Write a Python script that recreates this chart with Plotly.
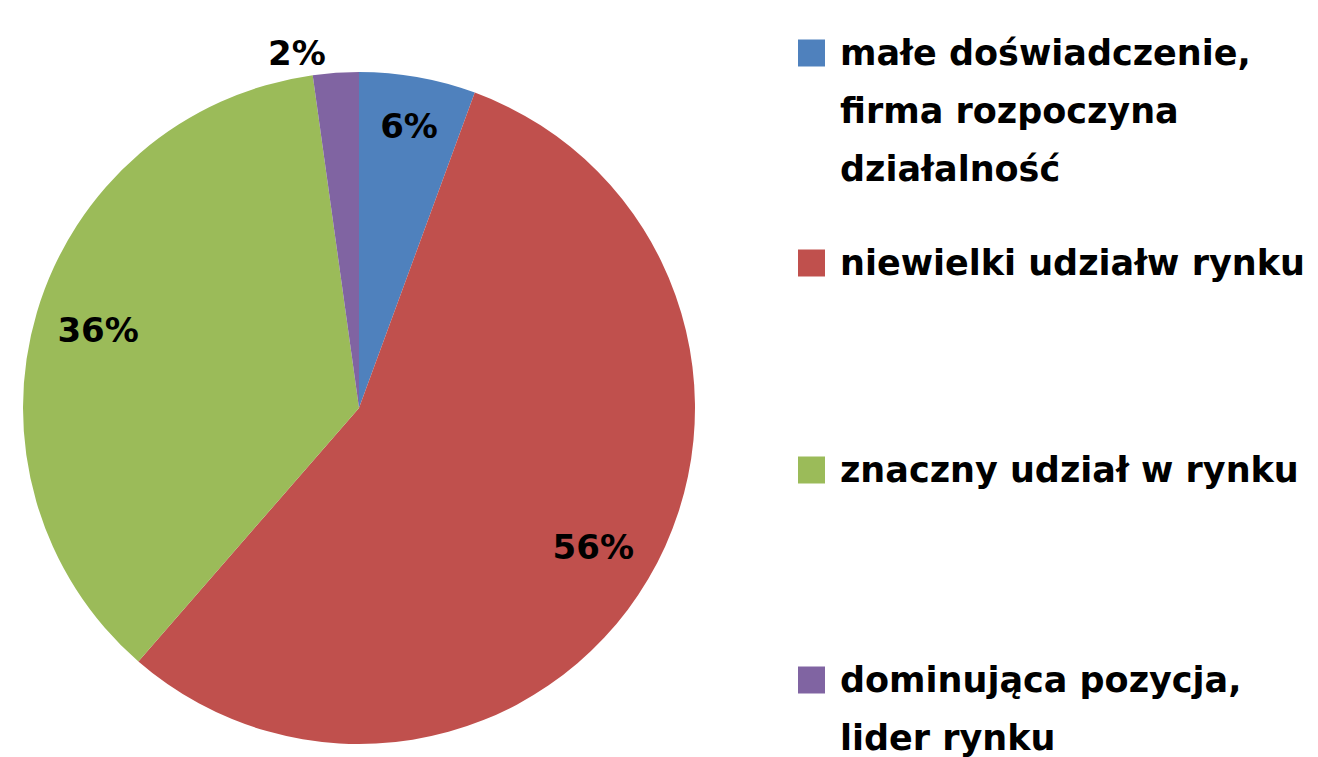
import plotly.graph_objects as go

# page is 1318x757, the html body adds an 8px margin on top/left
PAGE_OFF = 8
FW, FH = 1318 - PAGE_OFF, 757 - PAGE_OFF

categories = [
    "małe doświadczenie,<br>firma rozpoczyna<br>działalność",
    "niewielki udziałw rynku",
    "znaczny udział w rynku",
    "dominująca pozycja,<br>lider rynku",
]
shares = [5.6, 55.8, 36.4, 2.2]
colors = ["#4F81BD", "#C0504D", "#9BBB59", "#8064A2"]
text_positions = ["inside", "inside", "inside", "outside"]

FONT = "DejaVu Sans"


def px(x):
    return (x - PAGE_OFF) / FW


def py(y):
    return 1 - (y - PAGE_OFF) / FH


pie_domain = dict(x=[px(23), px(695)], y=[py(744), py(72)])

fig = go.Figure()

# coloured slices
fig.add_trace(
    go.Pie(
        labels=categories,
        values=shares,
        sort=False,
        direction="clockwise",
        rotation=0,
        marker=dict(colors=colors, line=dict(width=0)),
        textinfo="none",
        hoverinfo="label+percent",
        domain=pie_domain,
        showlegend=False,
    )
)

# transparent ring on top, only to push the % labels out toward the rim
fig.add_trace(
    go.Pie(
        labels=categories,
        values=shares,
        sort=False,
        direction="clockwise",
        rotation=0,
        hole=0.62,
        marker=dict(colors=["rgba(0,0,0,0)"] * len(shares), line=dict(width=0)),
        texttemplate="<b>%{percent:.0%}</b>",
        textposition=text_positions,
        insidetextorientation="horizontal",
        textfont=dict(family=FONT, size=34, color="black"),
        hoverinfo="skip",
        domain=pie_domain,
        showlegend=False,
    )
)

# hand-drawn legend (Excel style: big squares, widely spaced rows)
row_tops = [53, 263, 470, 680]
line_gap = 58
box = 27
box_x = 798
text_x = 838

shapes = []
annotations = []
for cat, col, y0 in zip(categories, colors, row_tops):
    shapes.append(
        dict(
            type="rect",
            xref="paper",
            yref="paper",
            x0=px(box_x),
            x1=px(box_x + box),
            y0=py(y0 + box / 2),
            y1=py(y0 - box / 2),
            fillcolor=col,
            line=dict(width=0),
        )
    )
    for i, line in enumerate(cat.split("<br>")):
        annotations.append(
            dict(
                xref="paper",
                yref="paper",
                x=px(text_x),
                y=py(y0 + i * line_gap),
                xanchor="left",
                yanchor="middle",
                text=f"<b>{line}</b>",
                showarrow=False,
                font=dict(family=FONT, size=35, color="black"),
            )
        )

fig.update_layout(
    width=FW,
    height=FH,
    margin=dict(l=0, r=0, t=0, b=0),
    paper_bgcolor="white",
    plot_bgcolor="white",
    shapes=shapes,
    annotations=annotations,
)

fig.write_html("out.html")
